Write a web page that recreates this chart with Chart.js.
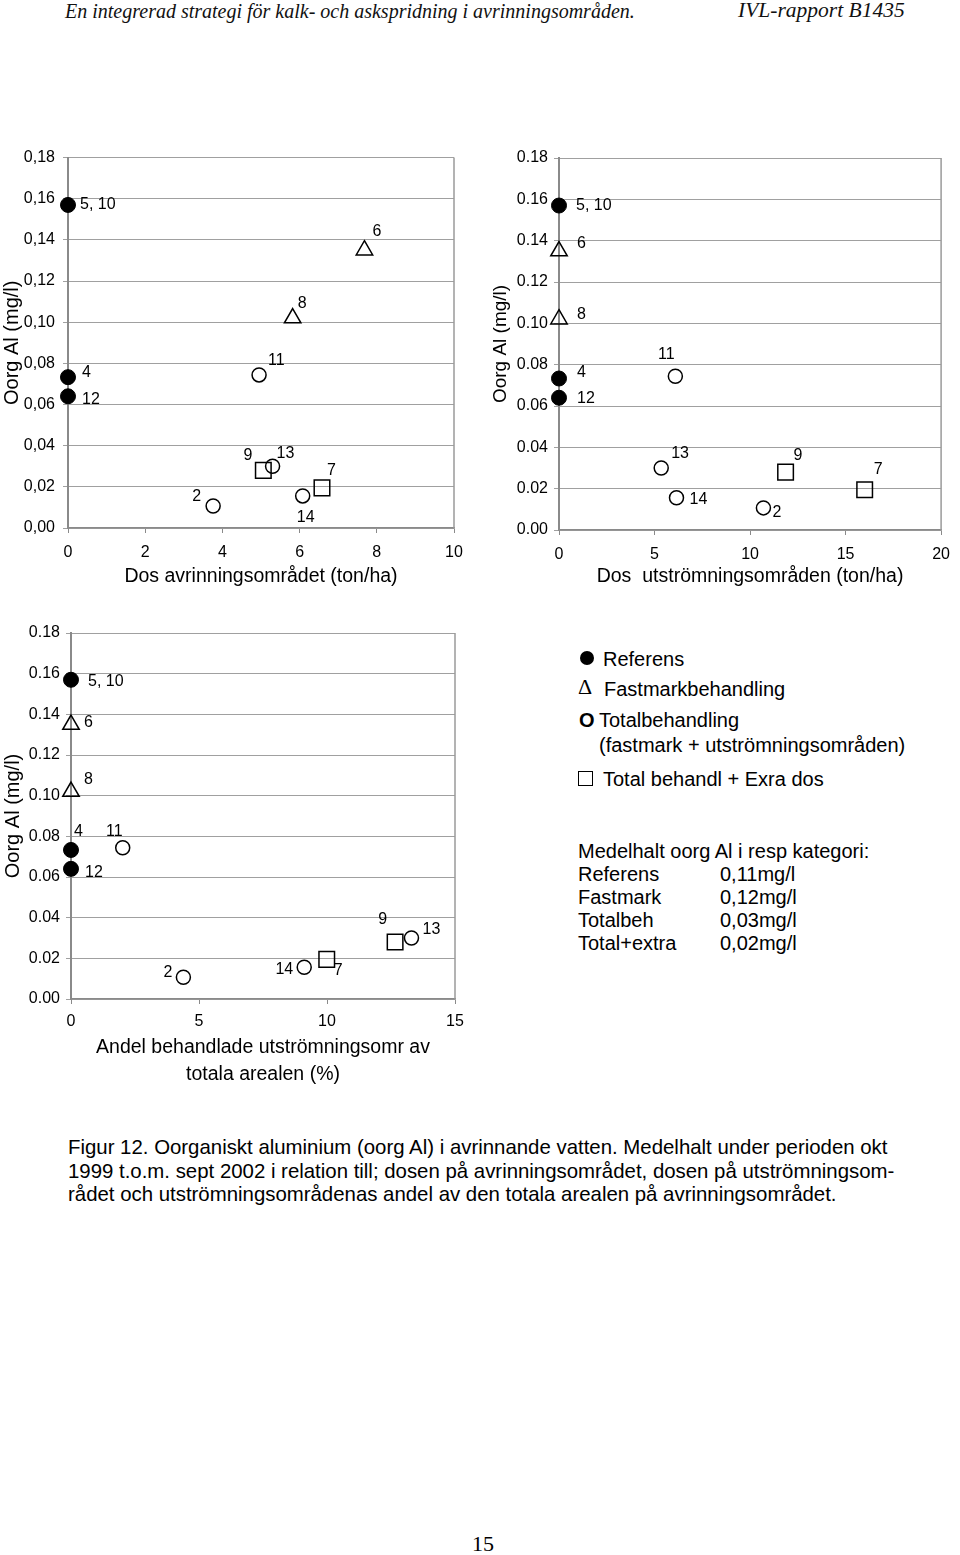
<!DOCTYPE html>
<html>
<head>
<meta charset="utf-8">
<script src="https://cdn.jsdelivr.net/npm/chart.js@4.4.1/dist/chart.umd.min.js"></script>
<style>
  body { margin: 0; background: #fff; width: 960px; height: 1555px; position: relative; overflow: hidden;
         font-family: "Liberation Sans", Arial, sans-serif; color: #000; }
  .t { position: absolute; white-space: pre; line-height: 1.2; }
  .hdr { font-family: "Liberation Serif", "Times New Roman", serif; font-style: italic; color: #111; }
  .leg { font-size: 20px; }
  .cap { font-size: 20.4px; left: 68px; }
  canvas { position: absolute; }
</style>
</head>
<body>

<div class="t hdr" style="left:65px;top:-1px;font-size:20px;">En integrerad strategi för kalk- och askspridning i avrinningsområden.</div>
<div class="t hdr" style="left:738px;top:-2px;font-size:21.5px;">IVL-rapport B1435</div>

<canvas id="c1" width="475" height="452" style="left:0px;top:140px;"></canvas>
<canvas id="c2" width="480" height="450" style="left:480px;top:142px;"></canvas>
<canvas id="c3" width="475" height="475" style="left:0px;top:617px;"></canvas>

<!-- legend -->
<div style="position:absolute;left:580px;top:651px;width:14px;height:14px;border-radius:50%;background:#000;"></div>
<div class="t leg" style="left:603px;top:647px;">Referens</div>
<div class="t leg" style="left:578px;top:674px;font-family:'Liberation Serif',serif;font-size:22px;">Δ</div>
<div class="t leg" style="left:604px;top:677px;">Fastmarkbehandling</div>
<div class="t leg" style="left:579px;top:708px;font-weight:bold;">O</div>
<div class="t leg" style="left:599px;top:708px;">Totalbehandling</div>
<div class="t leg" style="left:599px;top:733px;">(fastmark + utströmningsområden)</div>
<div style="position:absolute;left:578px;top:771px;width:13px;height:13px;border:1px solid #000;"></div>
<div class="t leg" style="left:603px;top:767px;">Total behandl + Exra dos</div>

<div class="t leg" style="left:578px;top:839px;">Medelhalt oorg Al i resp kategori:</div>
<div class="t leg" style="left:578px;top:862px;">Referens</div>
<div class="t leg" style="left:720px;top:862px;">0,11mg/l</div>
<div class="t leg" style="left:578px;top:885px;">Fastmark</div>
<div class="t leg" style="left:720px;top:885px;">0,12mg/l</div>
<div class="t leg" style="left:578px;top:908px;">Totalbeh</div>
<div class="t leg" style="left:720px;top:908px;">0,03mg/l</div>
<div class="t leg" style="left:578px;top:931px;">Total+extra</div>
<div class="t leg" style="left:720px;top:931px;">0,02mg/l</div>

<!-- caption -->
<div class="t cap" style="top:1135px;">Figur 12. Oorganiskt aluminium (oorg Al) i avrinnande vatten. Medelhalt under perioden okt</div>
<div class="t cap" style="top:1159px;">1999 t.o.m. sept 2002 i relation till; dosen på avrinningsområdet, dosen på utströmningsom-</div>
<div class="t cap" style="top:1182px;">rådet och utströmningsområdenas andel av den totala arealen på avrinningsområdet.</div>

<div class="t" style="left:472px;top:1531px;font-family:'Liberation Serif',serif;font-size:22px;">15</div>

<script>
// site numbers per treatment category
const referensIds = ['5, 10', '4', '12'];
const fastmarkIds = ['6', '8'];
const totalIds = ['11', '13', '14', '2'];
const extraIds = ['9', '7'];

// oorg Al (mg/l)
const referensAl = [0.157, 0.0733, 0.064];
const fastmarkAl = [0.135, 0.102];
const totalAl = [0.0744, 0.030, 0.0156, 0.0107];
const extraAl = [0.028, 0.0195];

// dos avrinningsområdet (ton/ha)
const referensDosAvr = [0, 0, 0];
const fastmarkDosAvr = [7.68, 5.82];
const totalDosAvr = [4.95, 5.30, 6.08, 3.76];
const extraDosAvr = [5.06, 6.58];

// dos utströmningsområden (ton/ha)
const referensDosUtstr = [0, 0, 0];
const fastmarkDosUtstr = [0, 0];
const totalDosUtstr = [6.09, 5.35, 6.15, 10.7];
const extraDosUtstr = [11.86, 16.0];

// andel behandlade utströmningsomr (%)
const referensAndel = [0, 0, 0];
const fastmarkAndel = [0, 0];
const totalAndel = [2.02, 13.3, 9.11, 4.39];
const extraAndel = [12.66, 9.99];

// where the site number sits relative to its marker: [dx, dy, align]
const labelPos1 = {
  '5, 10': [12, 0, 'left'], '4': [14, -5, 'left'], '12': [14, 3, 'left'],
  '6': [8, -19, 'left'], '8': [5, -15, 'left'],
  '11': [9, -14, 'left'], '13': [4, -13, 'left'], '14': [3, 22, 'center'], '2': [-12, -9, 'right'],
  '9': [-11, -15, 'right'], '7': [5, -17, 'left']
};
const labelPos2 = {
  '5, 10': [17, 0, 'left'], '4': [18, -6, 'left'], '12': [18, 1, 'left'],
  '6': [18, -7, 'left'], '8': [18, -5, 'left'],
  '11': [-9, -22, 'center'], '13': [10, -14, 'left'], '14': [13, 2, 'left'], '2': [9, 5, 'left'],
  '9': [8, -17, 'left'], '7': [9, -20, 'left']
};
const labelPos3 = {
  '5, 10': [17, 2, 'left'], '4': [3, -18, 'left'], '12': [14, 4, 'left'],
  '6': [13, -2, 'left'], '8': [13, -12, 'left'],
  '11': [0, -16, 'right'], '13': [11, -8, 'left'], '14': [-11, 2, 'right'], '2': [-11, -5, 'right'],
  '9': [-8, -22, 'right'], '7': [7, 11, 'left']
};

Chart.defaults.font.family = '"Liberation Sans", Arial, sans-serif';
Chart.defaults.color = '#000';

const toPts = (xs, ys) => xs.map((x, i) => ({ x: x, y: ys[i] }));

// numbers next to the markers
const siteLabels = {
  id: 'siteLabels',
  afterDatasetsDraw(chart, args, opts) {
    const ctx = chart.ctx;
    ctx.save();
    ctx.font = '16px "Liberation Sans", Arial, sans-serif';
    ctx.fillStyle = '#000';
    ctx.textBaseline = 'middle';
    chart.data.datasets.forEach((ds, di) => {
      chart.getDatasetMeta(di).data.forEach((pt, i) => {
        const id = ds.ids[i];
        const p = opts.pos[id] || [10, 0, 'left'];
        ctx.textAlign = p[2];
        ctx.fillText(id, pt.x + p[0], pt.y + p[1]);
      });
    });
    ctx.restore();
  }
};

// right edge of the plot frame
const frameRight = {
  id: 'frameRight',
  beforeDatasetsDraw(chart) {
    const a = chart.chartArea, ctx = chart.ctx;
    ctx.save();
    ctx.strokeStyle = '#9a9a9a';
    ctx.lineWidth = 1.5;
    ctx.beginPath();
    ctx.moveTo(a.right, a.top);
    ctx.lineTo(a.right, a.bottom);
    ctx.stroke();
    ctx.restore();
  }
};

function makeChart(id, c) {
  const datasets = [
    { label: 'Referens', ids: referensIds, data: toPts(c.xs[0], referensAl),
      pointStyle: 'circle', pointRadius: 7.5, backgroundColor: '#000', borderColor: '#000', borderWidth: 1 },
    { label: 'Fastmarkbehandling', ids: fastmarkIds, data: toPts(c.xs[1], fastmarkAl),
      pointStyle: 'triangle', pointRadius: 9.5, backgroundColor: 'rgba(0,0,0,0)', borderColor: '#000', borderWidth: 1.5 },
    { label: 'Totalbehandling', ids: totalIds, data: toPts(c.xs[2], totalAl),
      pointStyle: 'circle', pointRadius: 7, backgroundColor: 'rgba(0,0,0,0)', borderColor: '#000', borderWidth: 1.5 },
    { label: 'Total behandl + Exra dos', ids: extraIds, data: toPts(c.xs[3], extraAl),
      pointStyle: 'rect', pointRadius: 11, backgroundColor: 'rgba(0,0,0,0)', borderColor: '#000', borderWidth: 1.5 }
  ];
  datasets.forEach(d => { d.clip = false; d.pointHoverRadius = d.pointRadius; });

  return new Chart(document.getElementById(id), {
    type: 'scatter',
    data: { datasets: datasets },
    plugins: [siteLabels, frameRight],
    options: {
      responsive: false,
      animation: false,
      layout: { padding: { top: 16, right: c.padRight, left: 0, bottom: 0 } },
      plugins: { legend: { display: false }, tooltip: { enabled: false }, siteLabels: { pos: c.labelPos } },
      scales: {
        x: {
          type: 'linear', min: 0, max: c.xMax,
          afterFit: s => { s.height = c.xAxisH; },
          ticks: { stepSize: c.xStep, padding: c.xTickPad, font: { size: 16 }, maxRotation: 0 },
          grid: { drawOnChartArea: false, drawTicks: true, tickLength: 5, color: '#8a8a8a' },
          border: { color: '#8a8a8a', width: 1.5 },
          title: { display: true, text: c.xTitle, font: { size: 19.5, lineHeight: c.xTitleLH || 1.2 }, padding: { top: 4, bottom: 4 } }
        },
        y: {
          type: 'linear', min: 0, max: 0.18,
          afterFit: s => { s.width = c.yAxisW; },
          ticks: { stepSize: 0.02, padding: c.yTickPad, font: { size: 16 },
                   callback: v => c.comma ? v.toFixed(2).replace('.', ',') : v.toFixed(2) },
          grid: { color: '#a0a0a0', lineWidth: 1, tickLength: 5 },
          border: { color: '#8a8a8a', width: 2 },
          title: { display: true, text: 'Oorg Al (mg/l)', font: { size: c.yTitleSize }, padding: { top: c.yTitlePad, bottom: 0 } }
        }
      }
    }
  });
}

makeChart('c1', {
  xs: [referensDosAvr, fastmarkDosAvr, totalDosAvr, extraDosAvr],
  xMax: 10, xStep: 2, xTitle: 'Dos avrinningsområdet (ton/ha)',
  padRight: 21, xAxisH: 64, yAxisW: 68, xTickPad: 10, yTickPad: 8,
  yTitleSize: 20, yTitlePad: 0, comma: true, labelPos: labelPos1
});

makeChart('c2', {
  xs: [referensDosUtstr, fastmarkDosUtstr, totalDosUtstr, extraDosUtstr],
  xMax: 20, xStep: 5, xTitle: 'Dos  utströmningsområden (ton/ha)',
  padRight: 11, xAxisH: 62, yAxisW: 79, xTickPad: 10, yTickPad: 6,
  yTitleSize: 19, yTitlePad: 9, comma: false, labelPos: labelPos2
});

makeChart('c3', {
  xs: [referensAndel, fastmarkAndel, totalAndel, extraAndel],
  xMax: 15, xStep: 5, xTitle: ['Andel behandlade utströmningsomr av', 'totala arealen (%)'], xTitleLH: 1.385,
  padRight: 20, xAxisH: 93, yAxisW: 71, xTickPad: 8, yTickPad: 6,
  yTitleSize: 20, yTitlePad: 1, comma: false, labelPos: labelPos3
});
</script>
</body>
</html>
